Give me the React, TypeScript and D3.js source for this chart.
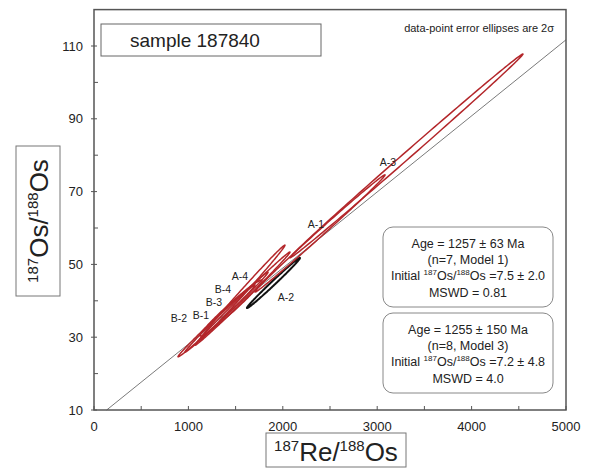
import React from "react";
import * as d3 from "d3";

// ---- data ----
const sampleNames = ["A-1", "A-2", "A-3", "A-4", "B-1", "B-2", "B-3", "B-4"];
// ellipse centres (187Re/188Os, 187Os/188Os), errors and correlation
const reOs = [2394, 1901, 3310, 1573, 1451, 1298, 1404, 1573];
const reOsErr = [689, 281, 1234, 450, 328, 408, 440, 503];
const osOs = [58.5, 44.9, 79.8, 42.3, 38.0, 34.5, 36.9, 40.6];
const osOsErr = [16.1, 6.9, 28.0, 13.0, 7.7, 9.9, 11.0, 12.8];
const rhoVals = [0.9976, 0.994, 0.999, 0.9969, 0.981, 0.9955, 0.9962, 0.9972];
const included = [true, false, true, true, true, true, true, true];
// label anchor positions in data units
const labelX = [2352, 2034, 3114, 1547, 1133, 900, 1271, 1367];
const labelY = [61.1, 41.0, 78.1, 46.8, 36.1, 35.3, 39.7, 43.2];
// isochron
const isoIntercept = [7.2];
const isoSlope = [0.0209];
// axes
const xTicks = [0, 1000, 2000, 3000, 4000, 5000];
const xMinor = [0, 500, 1000, 1500, 2000, 2500, 3000, 3500, 4000, 4500, 5000];
const yTicks = [10, 30, 50, 70, 90, 110];
const yMinor = [20, 40, 60, 80, 100];
const box1Lines = ["Age = 1257 ± 63 Ma", "(n=7, Model 1)", "7.5 ± 2.0", "MSWD = 0.81"];
const box2Lines = ["Age = 1255 ± 150 Ma", "(n=8, Model 3)", "7.2 ± 4.8", "MSWD = 4.0"];

const FONT = "'Liberation Sans', Arial, Helvetica, sans-serif";
const RED = "#b3262a";

function InfoBox({ x, y, w, h, lines }: { x: number; y: number; w: number; h: number; lines: string[] }) {
  const cx = x + w / 2;
  return (
    <g>
      <rect x={x} y={y} width={w} height={h} rx={10} ry={10} fill="white" stroke="#888" strokeWidth={1} />
      <text x={cx} y={y + 21} textAnchor="middle" fontSize={12.5} fill="#222">{lines[0]}</text>
      <text x={cx} y={y + 37} textAnchor="middle" fontSize={12.5} fill="#222">{lines[1]}</text>
      <text x={cx} y={y + 53} textAnchor="middle" fontSize={12.5} fill="#222">
        Initial <tspan fontSize={8} dy={-5}>187</tspan>
        <tspan dy={5}>Os/</tspan>
        <tspan fontSize={8} dy={-5}>188</tspan>
        <tspan dy={5}>Os =</tspan>
        {lines[2]}
      </text>
      <text x={cx} y={y + 70} textAnchor="middle" fontSize={12.5} fill="#222">{lines[3]}</text>
    </g>
  );
}

export default function App() {
  const W = 590, H = 468;
  const x = d3.scaleLinear().domain([0, 5000]).range([94, 566]);
  const y = d3.scaleLinear().domain([10, 120]).range([410, 9.6]);
  const [x0, x1] = x.range();
  const [yb, yt] = y.range();

  const line = d3.line<[number, number]>().x((d) => x(d[0])).y((d) => y(d[1])).curve(d3.curveLinearClosed);
  const ellipsePath = (i: number) => {
    const pts: [number, number][] = [];
    const r = rhoVals[i];
    const s = Math.sqrt(1 - r * r);
    for (let k = 0; k < 180; k++) {
      const t = (k / 180) * Math.PI * 2;
      pts.push([reOs[i] + reOsErr[i] * Math.cos(t), osOs[i] + osOsErr[i] * (r * Math.cos(t) + s * Math.sin(t))]);
    }
    return line(pts) || "";
  };

  const b = isoIntercept[0], m = isoSlope[0];
  const lxStart = (10 - b) / m;
  const lxEnd = 5000;

  const order = [1, 0, 2, 3, 4, 5, 6, 7];

  return (
    <svg width={W} height={H} style={{ position: "absolute", left: 0, top: 0, fontFamily: FONT }}>
      <rect width={W} height={H} fill="white" />
      {/* isochron */}
      <line x1={x(lxStart)} y1={y(10)} x2={x(lxEnd)} y2={y(b + m * lxEnd)} stroke="#7a7a7a" strokeWidth={1} />
      {/* ellipses */}
      {order.map((i) => (
        <path key={sampleNames[i]} d={ellipsePath(i)} fill="none" stroke={included[i] ? RED : "#111"} strokeWidth={included[i] ? 1.5 : 2} />
      ))}
      {/* labels */}
      {sampleNames.map((n, i) => (
        <text key={n} x={x(labelX[i])} y={y(labelY[i])} dy="0.35em" textAnchor="middle" fontSize={10.5} fill="#222">{n}</text>
      ))}
      {/* frame */}
      <rect x={x0} y={yt} width={x1 - x0} height={yb - yt} fill="none" stroke="#555" strokeWidth={1.5} />
      {/* ticks */}
      {xMinor.map((v) => (
        <line key={"xt" + v} x1={x(v)} x2={x(v)} y1={yb} y2={yb - 4} stroke="#555" strokeWidth={1} />
      ))}
      {yTicks.map((v) => (
        <line key={"yt" + v} x1={x0 - 3} x2={x0 + 3} y1={y(v)} y2={y(v)} stroke="#555" strokeWidth={1} />
      ))}
      {yMinor.map((v) => (
        <line key={"ym" + v} x1={x0} x2={x0 + 4} y1={y(v)} y2={y(v)} stroke="#555" strokeWidth={1} />
      ))}
      {xTicks.map((v) => (
        <text key={"xl" + v} x={x(v)} y={yb + 21} textAnchor="middle" fontSize={13} fill="#222">{v}</text>
      ))}
      {yTicks.map((v) => (
        <text key={"yl" + v} x={x0 - 11} y={y(v)} dy="0.35em" textAnchor="end" fontSize={13} fill="#222">{v}</text>
      ))}
      {/* sample box */}
      <rect x={101} y={24} width={220} height={32} fill="white" stroke="#666" strokeWidth={1} />
      <text x={130} y={47} fontSize={19} fill="#222">sample 187840</text>
      <text x={554} y={32} textAnchor="end" fontSize={11} fill="#222">data-point error ellipses are 2σ</text>
      {/* info boxes */}
      <InfoBox x={383} y={227} w={170} h={80} lines={box1Lines} />
      <InfoBox x={383} y={313} w={170} h={80} lines={box2Lines} />
      {/* x axis title */}
      <rect x={266} y={433} width={140} height={34} fill="white" stroke="#777" strokeWidth={1} />
      <text x={336} y={461} textAnchor="middle" fontSize={26} fill="#222">
        <tspan fontSize={15} dy={-10}>187</tspan>
        <tspan dy={10}>Re/</tspan>
        <tspan fontSize={15} dy={-10}>188</tspan>
        <tspan dy={10}>Os</tspan>
      </text>
      {/* y axis title */}
      <rect x={16} y={146} width={44} height={150} fill="white" stroke="#777" strokeWidth={1} />
      <text transform="translate(48,221) rotate(-90)" textAnchor="middle" fontSize={26} fill="#222">
        <tspan fontSize={15} dy={-10}>187</tspan>
        <tspan dy={10}>Os/</tspan>
        <tspan fontSize={15} dy={-10}>188</tspan>
        <tspan dy={10}>Os</tspan>
      </text>
    </svg>
  );
}
